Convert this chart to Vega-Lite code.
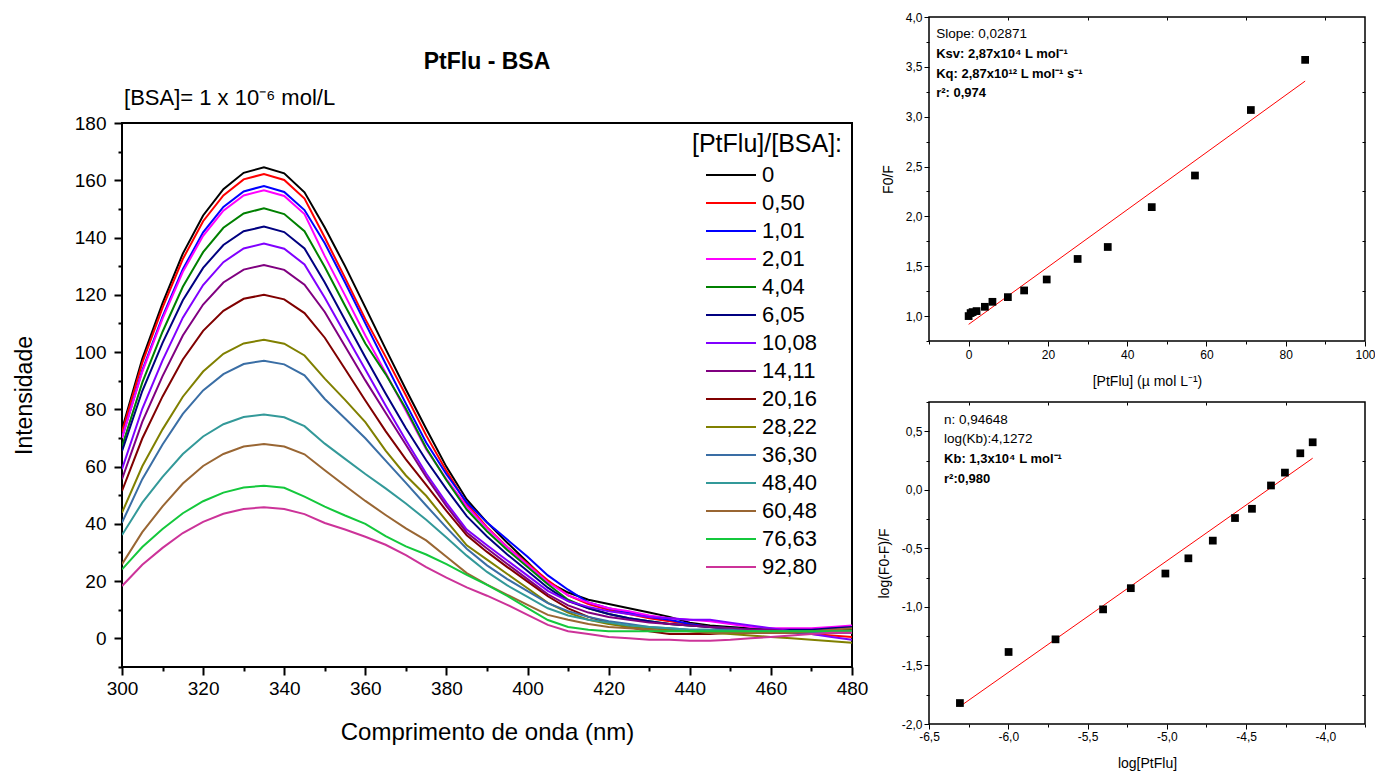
{
"$schema": "https://vega.github.io/schema/vega-lite/v6.json",
"background": "white",
"padding": {"left": 12, "top": 10, "right": 0, "bottom": 0},
"config": {
  "font": "Liberation Sans",
  "view": {"stroke": "black", "strokeWidth": 2},
  "axis": {"domain": false, "grid": false, "tickColor": "black", "labelColor": "black", "titleColor": "black", "titleFontWeight": "normal", "labelOverlap": false, "labelFlush": false}
},
"datasets": {
"sp": [
{"s":"0","x":300,"y":73},{"s":"0","x":305,"y":97.6},{"s":"0","x":310,"y":117.1},{"s":"0","x":315,"y":134.4},{"s":"0","x":320,"y":147.7},{"s":"0","x":325,"y":156.9},{"s":"0","x":330,"y":162.6},{"s":"0","x":335,"y":164.5},{"s":"0","x":340,"y":162.4},{"s":"0","x":345,"y":155.8},{"s":"0","x":350,"y":143.5},{"s":"0","x":355,"y":130},{"s":"0","x":360,"y":115.6},{"s":"0","x":365,"y":101.1},{"s":"0","x":370,"y":86.9},{"s":"0","x":375,"y":73.2},{"s":"0","x":380,"y":59.9},{"s":"0","x":385,"y":48.5},{"s":"0","x":390,"y":40.5},{"s":"0","x":395,"y":33.4},{"s":"0","x":400,"y":26.6},{"s":"0","x":405,"y":19.7},{"s":"0","x":410,"y":16},{"s":"0","x":415,"y":13.5},{"s":"0","x":420,"y":12},{"s":"0","x":425,"y":10.5},{"s":"0","x":430,"y":9},{"s":"0","x":435,"y":7.5},{"s":"0","x":440,"y":5.5},{"s":"0","x":445,"y":4.5},{"s":"0","x":450,"y":4},{"s":"0","x":455,"y":3.5},{"s":"0","x":460,"y":3},{"s":"0","x":465,"y":2.5},{"s":"0","x":470,"y":2.5},{"s":"0","x":475,"y":3},{"s":"0","x":480,"y":3},
{"s":"0,50","x":300,"y":72},{"s":"0,50","x":305,"y":96.2},{"s":"0,50","x":310,"y":115.5},{"s":"0,50","x":315,"y":132.5},{"s":"0,50","x":320,"y":145.7},{"s":"0,50","x":325,"y":154.7},{"s":"0,50","x":330,"y":160.3},{"s":"0,50","x":335,"y":162.2},{"s":"0,50","x":340,"y":160.1},{"s":"0,50","x":345,"y":153.6},{"s":"0,50","x":350,"y":140},{"s":"0,50","x":355,"y":125.9},{"s":"0,50","x":360,"y":111.5},{"s":"0,50","x":365,"y":98.4},{"s":"0,50","x":370,"y":84.9},{"s":"0,50","x":375,"y":70.9},{"s":"0,50","x":380,"y":58.5},{"s":"0,50","x":385,"y":47},{"s":"0,50","x":390,"y":38.8},{"s":"0,50","x":395,"y":31.9},{"s":"0,50","x":400,"y":26.1},{"s":"0,50","x":405,"y":20.3},{"s":"0,50","x":410,"y":15},{"s":"0,50","x":415,"y":12},{"s":"0,50","x":420,"y":10},{"s":"0,50","x":425,"y":8.5},{"s":"0,50","x":430,"y":7},{"s":"0,50","x":435,"y":6},{"s":"0,50","x":440,"y":5},{"s":"0,50","x":445,"y":4},{"s":"0,50","x":450,"y":3.5},{"s":"0,50","x":455,"y":3},{"s":"0,50","x":460,"y":2.5},{"s":"0,50","x":465,"y":2},{"s":"0,50","x":470,"y":1.5},{"s":"0,50","x":475,"y":1},{"s":"0,50","x":480,"y":0.5},
{"s":"1,01","x":300,"y":70},{"s":"1,01","x":305,"y":93.6},{"s":"1,01","x":310,"y":112.4},{"s":"1,01","x":315,"y":128.9},{"s":"1,01","x":320,"y":141.8},{"s":"1,01","x":325,"y":150.7},{"s":"1,01","x":330,"y":156.1},{"s":"1,01","x":335,"y":158},{"s":"1,01","x":340,"y":155.9},{"s":"1,01","x":345,"y":149.6},{"s":"1,01","x":350,"y":138},{"s":"1,01","x":355,"y":124.3},{"s":"1,01","x":360,"y":110},{"s":"1,01","x":365,"y":95.9},{"s":"1,01","x":370,"y":82},{"s":"1,01","x":375,"y":68.4},{"s":"1,01","x":380,"y":57.3},{"s":"1,01","x":385,"y":47.5},{"s":"1,01","x":390,"y":40.5},{"s":"1,01","x":395,"y":34.5},{"s":"1,01","x":400,"y":28.5},{"s":"1,01","x":405,"y":22},{"s":"1,01","x":410,"y":17},{"s":"1,01","x":415,"y":12.5},{"s":"1,01","x":420,"y":10.5},{"s":"1,01","x":425,"y":9},{"s":"1,01","x":430,"y":7.5},{"s":"1,01","x":435,"y":6.5},{"s":"1,01","x":440,"y":5},{"s":"1,01","x":445,"y":4},{"s":"1,01","x":450,"y":3.5},{"s":"1,01","x":455,"y":3},{"s":"1,01","x":460,"y":2.5},{"s":"1,01","x":465,"y":2.5},{"s":"1,01","x":470,"y":2.5},{"s":"1,01","x":475,"y":2.5},{"s":"1,01","x":480,"y":2.5},
{"s":"2,01","x":300,"y":70},{"s":"2,01","x":305,"y":93.1},{"s":"2,01","x":310,"y":111.7},{"s":"2,01","x":315,"y":128},{"s":"2,01","x":320,"y":140.6},{"s":"2,01","x":325,"y":149.4},{"s":"2,01","x":330,"y":154.7},{"s":"2,01","x":335,"y":156.5},{"s":"2,01","x":340,"y":154.5},{"s":"2,01","x":345,"y":148.2},{"s":"2,01","x":350,"y":133.5},{"s":"2,01","x":355,"y":119.8},{"s":"2,01","x":360,"y":105.8},{"s":"2,01","x":365,"y":92.8},{"s":"2,01","x":370,"y":79.5},{"s":"2,01","x":375,"y":66.1},{"s":"2,01","x":380,"y":55.6},{"s":"2,01","x":385,"y":46.1},{"s":"2,01","x":390,"y":38.5},{"s":"2,01","x":395,"y":31.8},{"s":"2,01","x":400,"y":25.7},{"s":"2,01","x":405,"y":19.6},{"s":"2,01","x":410,"y":15},{"s":"2,01","x":415,"y":12.5},{"s":"2,01","x":420,"y":10.5},{"s":"2,01","x":425,"y":9.5},{"s":"2,01","x":430,"y":8},{"s":"2,01","x":435,"y":7},{"s":"2,01","x":440,"y":6.5},{"s":"2,01","x":445,"y":6},{"s":"2,01","x":450,"y":5},{"s":"2,01","x":455,"y":4},{"s":"2,01","x":460,"y":3.5},{"s":"2,01","x":465,"y":3.5},{"s":"2,01","x":470,"y":3.5},{"s":"2,01","x":475,"y":4},{"s":"2,01","x":480,"y":4.5},
{"s":"4,04","x":300,"y":67},{"s":"4,04","x":305,"y":89.3},{"s":"4,04","x":310,"y":107.1},{"s":"4,04","x":315,"y":122.8},{"s":"4,04","x":320,"y":134.9},{"s":"4,04","x":325,"y":143.4},{"s":"4,04","x":330,"y":148.4},{"s":"4,04","x":335,"y":150.2},{"s":"4,04","x":340,"y":148.2},{"s":"4,04","x":345,"y":142.2},{"s":"4,04","x":350,"y":129.7},{"s":"4,04","x":355,"y":116.2},{"s":"4,04","x":360,"y":103},{"s":"4,04","x":365,"y":92.3},{"s":"4,04","x":370,"y":80.2},{"s":"4,04","x":375,"y":66.5},{"s":"4,04","x":380,"y":55.2},{"s":"4,04","x":385,"y":45},{"s":"4,04","x":390,"y":37.4},{"s":"4,04","x":395,"y":30.9},{"s":"4,04","x":400,"y":24.9},{"s":"4,04","x":405,"y":18.9},{"s":"4,04","x":410,"y":13.5},{"s":"4,04","x":415,"y":10.5},{"s":"4,04","x":420,"y":8.5},{"s":"4,04","x":425,"y":7},{"s":"4,04","x":430,"y":6},{"s":"4,04","x":435,"y":5},{"s":"4,04","x":440,"y":4.5},{"s":"4,04","x":445,"y":4},{"s":"4,04","x":450,"y":3.5},{"s":"4,04","x":455,"y":3},{"s":"4,04","x":460,"y":3},{"s":"4,04","x":465,"y":2.5},{"s":"4,04","x":470,"y":2.5},{"s":"4,04","x":475,"y":2.5},{"s":"4,04","x":480,"y":3},
{"s":"6,05","x":300,"y":65.4},{"s":"6,05","x":305,"y":86.4},{"s":"6,05","x":310,"y":103.2},{"s":"6,05","x":315,"y":118.1},{"s":"6,05","x":320,"y":129.4},{"s":"6,05","x":325,"y":137.4},{"s":"6,05","x":330,"y":142.2},{"s":"6,05","x":335,"y":143.8},{"s":"6,05","x":340,"y":141.9},{"s":"6,05","x":345,"y":136.2},{"s":"6,05","x":350,"y":124.3},{"s":"6,05","x":355,"y":111.2},{"s":"6,05","x":360,"y":98.2},{"s":"6,05","x":365,"y":85.5},{"s":"6,05","x":370,"y":73.4},{"s":"6,05","x":375,"y":62.2},{"s":"6,05","x":380,"y":52.1},{"s":"6,05","x":385,"y":42.7},{"s":"6,05","x":390,"y":35.6},{"s":"6,05","x":395,"y":29.3},{"s":"6,05","x":400,"y":23.5},{"s":"6,05","x":405,"y":17.7},{"s":"6,05","x":410,"y":13},{"s":"6,05","x":415,"y":10.5},{"s":"6,05","x":420,"y":8.5},{"s":"6,05","x":425,"y":7},{"s":"6,05","x":430,"y":6},{"s":"6,05","x":435,"y":5},{"s":"6,05","x":440,"y":4.5},{"s":"6,05","x":445,"y":4},{"s":"6,05","x":450,"y":3.5},{"s":"6,05","x":455,"y":3},{"s":"6,05","x":460,"y":3},{"s":"6,05","x":465,"y":3},{"s":"6,05","x":470,"y":3},{"s":"6,05","x":475,"y":3.5},{"s":"6,05","x":480,"y":4},
{"s":"10,08","x":300,"y":59.1},{"s":"10,08","x":305,"y":80.2},{"s":"10,08","x":310,"y":97.1},{"s":"10,08","x":315,"y":112},{"s":"10,08","x":320,"y":123.4},{"s":"10,08","x":325,"y":131.4},{"s":"10,08","x":330,"y":136.2},{"s":"10,08","x":335,"y":137.9},{"s":"10,08","x":340,"y":136.1},{"s":"10,08","x":345,"y":130.6},{"s":"10,08","x":350,"y":119},{"s":"10,08","x":355,"y":106.4},{"s":"10,08","x":360,"y":93.9},{"s":"10,08","x":365,"y":81.3},{"s":"10,08","x":370,"y":69.2},{"s":"10,08","x":375,"y":57.6},{"s":"10,08","x":380,"y":47.3},{"s":"10,08","x":385,"y":38},{"s":"10,08","x":390,"y":32.5},{"s":"10,08","x":395,"y":27.2},{"s":"10,08","x":400,"y":21.9},{"s":"10,08","x":405,"y":16.6},{"s":"10,08","x":410,"y":13},{"s":"10,08","x":415,"y":11},{"s":"10,08","x":420,"y":9.5},{"s":"10,08","x":425,"y":8.5},{"s":"10,08","x":430,"y":7.5},{"s":"10,08","x":435,"y":7},{"s":"10,08","x":440,"y":6.5},{"s":"10,08","x":445,"y":6.5},{"s":"10,08","x":450,"y":5.5},{"s":"10,08","x":455,"y":4.5},{"s":"10,08","x":460,"y":3.5},{"s":"10,08","x":465,"y":2.5},{"s":"10,08","x":470,"y":1.5},{"s":"10,08","x":475,"y":0.5},{"s":"10,08","x":480,"y":-0.5},
{"s":"14,11","x":300,"y":55.6},{"s":"14,11","x":305,"y":75.6},{"s":"14,11","x":310,"y":91.6},{"s":"14,11","x":315,"y":105.8},{"s":"14,11","x":320,"y":116.6},{"s":"14,11","x":325,"y":124.3},{"s":"14,11","x":330,"y":128.8},{"s":"14,11","x":335,"y":130.4},{"s":"14,11","x":340,"y":128.7},{"s":"14,11","x":345,"y":123.5},{"s":"14,11","x":350,"y":114},{"s":"14,11","x":355,"y":102},{"s":"14,11","x":360,"y":90.1},{"s":"14,11","x":365,"y":78.8},{"s":"14,11","x":370,"y":67.6},{"s":"14,11","x":375,"y":56.4},{"s":"14,11","x":380,"y":46.2},{"s":"14,11","x":385,"y":37},{"s":"14,11","x":390,"y":31.4},{"s":"14,11","x":395,"y":26},{"s":"14,11","x":400,"y":20.7},{"s":"14,11","x":405,"y":15.4},{"s":"14,11","x":410,"y":11.5},{"s":"14,11","x":415,"y":9},{"s":"14,11","x":420,"y":7.5},{"s":"14,11","x":425,"y":6.5},{"s":"14,11","x":430,"y":5.5},{"s":"14,11","x":435,"y":5},{"s":"14,11","x":440,"y":4.5},{"s":"14,11","x":445,"y":4},{"s":"14,11","x":450,"y":3.5},{"s":"14,11","x":455,"y":3},{"s":"14,11","x":460,"y":3},{"s":"14,11","x":465,"y":2.5},{"s":"14,11","x":470,"y":2.5},{"s":"14,11","x":475,"y":2},{"s":"14,11","x":480,"y":2},
{"s":"20,16","x":300,"y":51.5},{"s":"20,16","x":305,"y":69.8},{"s":"20,16","x":310,"y":84.5},{"s":"20,16","x":315,"y":97.4},{"s":"20,16","x":320,"y":107.4},{"s":"20,16","x":325,"y":114.4},{"s":"20,16","x":330,"y":118.6},{"s":"20,16","x":335,"y":120},{"s":"20,16","x":340,"y":118.4},{"s":"20,16","x":345,"y":113.6},{"s":"20,16","x":350,"y":105},{"s":"20,16","x":355,"y":94.1},{"s":"20,16","x":360,"y":83.1},{"s":"20,16","x":365,"y":72.4},{"s":"20,16","x":370,"y":62.5},{"s":"20,16","x":375,"y":53.6},{"s":"20,16","x":380,"y":44.5},{"s":"20,16","x":385,"y":36},{"s":"20,16","x":390,"y":30.2},{"s":"20,16","x":395,"y":24.9},{"s":"20,16","x":400,"y":19.8},{"s":"20,16","x":405,"y":14.7},{"s":"20,16","x":410,"y":10.5},{"s":"20,16","x":415,"y":7.5},{"s":"20,16","x":420,"y":5.5},{"s":"20,16","x":425,"y":4},{"s":"20,16","x":430,"y":2.5},{"s":"20,16","x":435,"y":1.5},{"s":"20,16","x":440,"y":1.5},{"s":"20,16","x":445,"y":1.5},{"s":"20,16","x":450,"y":2},{"s":"20,16","x":455,"y":2},{"s":"20,16","x":460,"y":2},{"s":"20,16","x":465,"y":2},{"s":"20,16","x":470,"y":2},{"s":"20,16","x":475,"y":2},{"s":"20,16","x":480,"y":2.5},
{"s":"28,22","x":300,"y":43.9},{"s":"28,22","x":305,"y":60.1},{"s":"28,22","x":310,"y":73},{"s":"28,22","x":315,"y":84.4},{"s":"28,22","x":320,"y":93.2},{"s":"28,22","x":325,"y":99.4},{"s":"28,22","x":330,"y":103},{"s":"28,22","x":335,"y":104.3},{"s":"28,22","x":340,"y":102.9},{"s":"28,22","x":345,"y":98.8},{"s":"28,22","x":350,"y":90.7},{"s":"28,22","x":355,"y":83.3},{"s":"28,22","x":360,"y":75.5},{"s":"28,22","x":365,"y":65.6},{"s":"28,22","x":370,"y":56.9},{"s":"28,22","x":375,"y":49.8},{"s":"28,22","x":380,"y":41},{"s":"28,22","x":385,"y":32.5},{"s":"28,22","x":390,"y":27.5},{"s":"28,22","x":395,"y":22.5},{"s":"28,22","x":400,"y":17.5},{"s":"28,22","x":405,"y":12.4},{"s":"28,22","x":410,"y":9},{"s":"28,22","x":415,"y":6.5},{"s":"28,22","x":420,"y":5},{"s":"28,22","x":425,"y":4},{"s":"28,22","x":430,"y":3.5},{"s":"28,22","x":435,"y":3},{"s":"28,22","x":440,"y":2.5},{"s":"28,22","x":445,"y":2},{"s":"28,22","x":450,"y":1.5},{"s":"28,22","x":455,"y":1},{"s":"28,22","x":460,"y":0.5},{"s":"28,22","x":465,"y":0},{"s":"28,22","x":470,"y":-0.5},{"s":"28,22","x":475,"y":-1},{"s":"28,22","x":480,"y":-1.5},
{"s":"36,30","x":300,"y":40.4},{"s":"36,30","x":305,"y":55.6},{"s":"36,30","x":310,"y":67.7},{"s":"36,30","x":315,"y":78.4},{"s":"36,30","x":320,"y":86.6},{"s":"36,30","x":325,"y":92.3},{"s":"36,30","x":330,"y":95.8},{"s":"36,30","x":335,"y":97},{"s":"36,30","x":340,"y":95.7},{"s":"36,30","x":345,"y":91.9},{"s":"36,30","x":350,"y":83.6},{"s":"36,30","x":355,"y":76.8},{"s":"36,30","x":360,"y":69.9},{"s":"36,30","x":365,"y":62.1},{"s":"36,30","x":370,"y":54.3},{"s":"36,30","x":375,"y":46.4},{"s":"36,30","x":380,"y":38.7},{"s":"36,30","x":385,"y":31.3},{"s":"36,30","x":390,"y":25.5},{"s":"36,30","x":395,"y":20.7},{"s":"36,30","x":400,"y":16.5},{"s":"36,30","x":405,"y":12.3},{"s":"36,30","x":410,"y":9.5},{"s":"36,30","x":415,"y":7.5},{"s":"36,30","x":420,"y":6},{"s":"36,30","x":425,"y":5},{"s":"36,30","x":430,"y":4},{"s":"36,30","x":435,"y":3.5},{"s":"36,30","x":440,"y":3},{"s":"36,30","x":445,"y":3},{"s":"36,30","x":450,"y":3},{"s":"36,30","x":455,"y":2.5},{"s":"36,30","x":460,"y":2.5},{"s":"36,30","x":465,"y":2},{"s":"36,30","x":470,"y":2},{"s":"36,30","x":475,"y":2},{"s":"36,30","x":480,"y":2},
{"s":"48,40","x":300,"y":36.1},{"s":"48,40","x":305,"y":47.4},{"s":"48,40","x":310,"y":56.4},{"s":"48,40","x":315,"y":64.4},{"s":"48,40","x":320,"y":70.5},{"s":"48,40","x":325,"y":74.8},{"s":"48,40","x":330,"y":77.3},{"s":"48,40","x":335,"y":78.2},{"s":"48,40","x":340,"y":77.2},{"s":"48,40","x":345,"y":74.1},{"s":"48,40","x":350,"y":68},{"s":"48,40","x":355,"y":62.7},{"s":"48,40","x":360,"y":57.4},{"s":"48,40","x":365,"y":52.4},{"s":"48,40","x":370,"y":47.1},{"s":"48,40","x":375,"y":41.4},{"s":"48,40","x":380,"y":35.2},{"s":"48,40","x":385,"y":28.9},{"s":"48,40","x":390,"y":23.2},{"s":"48,40","x":395,"y":18.5},{"s":"48,40","x":400,"y":14.5},{"s":"48,40","x":405,"y":10.5},{"s":"48,40","x":410,"y":8},{"s":"48,40","x":415,"y":6.5},{"s":"48,40","x":420,"y":5.5},{"s":"48,40","x":425,"y":4.5},{"s":"48,40","x":430,"y":4},{"s":"48,40","x":435,"y":3.5},{"s":"48,40","x":440,"y":3},{"s":"48,40","x":445,"y":3},{"s":"48,40","x":450,"y":2.5},{"s":"48,40","x":455,"y":2.5},{"s":"48,40","x":460,"y":2.5},{"s":"48,40","x":465,"y":2.5},{"s":"48,40","x":470,"y":2.5},{"s":"48,40","x":475,"y":2.5},{"s":"48,40","x":480,"y":2.5},
{"s":"60,48","x":300,"y":25.9},{"s":"60,48","x":305,"y":37.1},{"s":"60,48","x":310,"y":46.1},{"s":"60,48","x":315,"y":54.1},{"s":"60,48","x":320,"y":60.2},{"s":"60,48","x":325,"y":64.4},{"s":"60,48","x":330,"y":67},{"s":"60,48","x":335,"y":67.9},{"s":"60,48","x":340,"y":67},{"s":"60,48","x":345,"y":64.3},{"s":"60,48","x":350,"y":58.7},{"s":"60,48","x":355,"y":53.3},{"s":"60,48","x":360,"y":48},{"s":"60,48","x":365,"y":43.1},{"s":"60,48","x":370,"y":38.4},{"s":"60,48","x":375,"y":34.2},{"s":"60,48","x":380,"y":28.5},{"s":"60,48","x":385,"y":22.8},{"s":"60,48","x":390,"y":18.8},{"s":"60,48","x":395,"y":15.2},{"s":"60,48","x":400,"y":11.7},{"s":"60,48","x":405,"y":8.2},{"s":"60,48","x":410,"y":6.5},{"s":"60,48","x":415,"y":5},{"s":"60,48","x":420,"y":4},{"s":"60,48","x":425,"y":3.5},{"s":"60,48","x":430,"y":3},{"s":"60,48","x":435,"y":2.5},{"s":"60,48","x":440,"y":2.5},{"s":"60,48","x":445,"y":2},{"s":"60,48","x":450,"y":2},{"s":"60,48","x":455,"y":2},{"s":"60,48","x":460,"y":2},{"s":"60,48","x":465,"y":2},{"s":"60,48","x":470,"y":2.5},{"s":"60,48","x":475,"y":3},{"s":"60,48","x":480,"y":3.5},
{"s":"76,63","x":300,"y":24.1},{"s":"76,63","x":305,"y":31.9},{"s":"76,63","x":310,"y":38.2},{"s":"76,63","x":315,"y":43.7},{"s":"76,63","x":320,"y":47.9},{"s":"76,63","x":325,"y":50.9},{"s":"76,63","x":330,"y":52.7},{"s":"76,63","x":335,"y":53.3},{"s":"76,63","x":340,"y":52.6},{"s":"76,63","x":345,"y":49.5},{"s":"76,63","x":350,"y":46},{"s":"76,63","x":355,"y":42.9},{"s":"76,63","x":360,"y":40},{"s":"76,63","x":365,"y":35.7},{"s":"76,63","x":370,"y":32.1},{"s":"76,63","x":375,"y":29.3},{"s":"76,63","x":380,"y":25.9},{"s":"76,63","x":385,"y":22.2},{"s":"76,63","x":390,"y":18.7},{"s":"76,63","x":395,"y":14.8},{"s":"76,63","x":400,"y":10.6},{"s":"76,63","x":405,"y":6.4},{"s":"76,63","x":410,"y":4},{"s":"76,63","x":415,"y":3},{"s":"76,63","x":420,"y":2.5},{"s":"76,63","x":425,"y":2.5},{"s":"76,63","x":430,"y":2.5},{"s":"76,63","x":435,"y":2.5},{"s":"76,63","x":440,"y":2.5},{"s":"76,63","x":445,"y":2.5},{"s":"76,63","x":450,"y":2.5},{"s":"76,63","x":455,"y":2.5},{"s":"76,63","x":460,"y":2.5},{"s":"76,63","x":465,"y":2.5},{"s":"76,63","x":470,"y":2.5},{"s":"76,63","x":475,"y":2.5},{"s":"76,63","x":480,"y":2.5},
{"s":"92,80","x":300,"y":18.3},{"s":"92,80","x":305,"y":25.7},{"s":"92,80","x":310,"y":31.6},{"s":"92,80","x":315,"y":36.8},{"s":"92,80","x":320,"y":40.7},{"s":"92,80","x":325,"y":43.5},{"s":"92,80","x":330,"y":45.2},{"s":"92,80","x":335,"y":45.8},{"s":"92,80","x":340,"y":45.2},{"s":"92,80","x":345,"y":43.4},{"s":"92,80","x":350,"y":40.3},{"s":"92,80","x":355,"y":38},{"s":"92,80","x":360,"y":35.5},{"s":"92,80","x":365,"y":32.7},{"s":"92,80","x":370,"y":29.1},{"s":"92,80","x":375,"y":24.9},{"s":"92,80","x":380,"y":21.2},{"s":"92,80","x":385,"y":17.8},{"s":"92,80","x":390,"y":14.9},{"s":"92,80","x":395,"y":11.7},{"s":"92,80","x":400,"y":8.2},{"s":"92,80","x":405,"y":4.7},{"s":"92,80","x":410,"y":2.5},{"s":"92,80","x":415,"y":1.5},{"s":"92,80","x":420,"y":0.5},{"s":"92,80","x":425,"y":0},{"s":"92,80","x":430,"y":-0.5},{"s":"92,80","x":435,"y":-0.5},{"s":"92,80","x":440,"y":-0.8},{"s":"92,80","x":445,"y":-0.8},{"s":"92,80","x":450,"y":-0.5},{"s":"92,80","x":455,"y":0},{"s":"92,80","x":460,"y":0.5},{"s":"92,80","x":465,"y":1},{"s":"92,80","x":470,"y":1.5},{"s":"92,80","x":475,"y":2},{"s":"92,80","x":480,"y":2}
],
"sv": [
{"x":0,"y":1.0},{"x":0.5,"y":1.03},{"x":1.0,"y":1.04},{"x":2.0,"y":1.05},{"x":4.1,"y":1.093},{"x":6.0,"y":1.143},{"x":9.9,"y":1.19},{"x":14.0,"y":1.257},{"x":19.7,"y":1.367},{"x":27.5,"y":1.573},{"x":35.1,"y":1.693},{"x":46.2,"y":2.093},{"x":57.1,"y":2.41},{"x":71.2,"y":3.067},{"x":84.9,"y":3.57}
],
"svfit": [{"x":0,"y":0.917},{"x":84.9,"y":3.357}],
"dl": [
{"x":-6.305,"y":-1.821},{"x":-5.998,"y":-1.385},{"x":-5.702,"y":-1.277},{"x":-5.402,"y":-1.021},{"x":-5.227,"y":-0.84},{"x":-5.009,"y":-0.715},{"x":-4.864,"y":-0.585},{"x":-4.71,"y":-0.434},{"x":-4.57,"y":-0.241},{"x":-4.463,"y":-0.162},{"x":-4.343,"y":0.037},{"x":-4.255,"y":0.147},{"x":-4.158,"y":0.312},{"x":-4.08,"y":0.406}
],
"dlfit": [{"x":-6.305,"y":-1.85},{"x":-4.08,"y":0.27}]
},
"resolve": {"scale": {"color": "independent"}, "legend": {"color": "independent"}},
"spacing": 7,
"hconcat": [
{
  "spacing": 10,
  "resolve": {"scale": {"color": "independent"}, "legend": {"color": "independent"}},
  "vconcat": [
    {"width": 730, "height": 23, "view": {"stroke": null}, "data": {"values": [{}]}, "mark": "text", "encoding": {"text": {"value": ""}}},
    {
      "width": 730, "height": 544,
      "title": {"text": "PtFlu - BSA", "fontSize": 23, "fontWeight": "bold", "anchor": "middle", "frame": "group", "offset": 13, "color": "black"},
      "resolve": {"axis": {"x": "independent", "y": "independent"}},
      "layer": [
        {
          "data": {"name": "sp"},
          "mark": {"type": "line", "strokeWidth": 2, "clip": true},
          "encoding": {
            "x": {"field": "x", "type": "quantitative", "scale": {"domain": [300, 480], "nice": false, "zero": false},
              "axis": {"orient": "bottom", "title": "Comprimento de onda (nm)", "values": [300,320,340,360,380,400,420,440,460,480],
                "format": "d", "tickSize": 8, "tickWidth": 2, "labelFontSize": 19, "titleFontSize": 24, "labelPadding": 4, "titlePadding": 22}},
            "y": {"field": "y", "type": "quantitative", "scale": {"domain": [-10, 180], "nice": false, "zero": false},
              "axis": {"orient": "left", "title": "Intensidade", "values": [0,20,40,60,80,100,120,140,160,180],
                "format": "d", "tickSize": 8, "tickWidth": 2, "labelFontSize": 19, "titleFontSize": 23, "labelPadding": 8, "titlePadding": 38}},
            "color": {"field": "s", "type": "nominal",
              "scale": {"domain": ["0","0,50","1,01","2,01","4,04","6,05","10,08","14,11","20,16","28,22","36,30","48,40","60,48","76,63","92,80"],
                "range": ["#000000","#FF0000","#0000FF","#FF00FF","#008000","#000080","#8000FF","#800080","#800000","#808000","#3A6EA5","#339999","#996633","#14C83C","#CC3399"]},
              "legend": {"title": "[PtFlu]/[BSA]:", "orient": "top-right", "offset": 9, "padding": 0,
                "titleFontSize": 25, "titleFontWeight": "normal", "titleColor": "black", "titlePadding": 4, "titleLimit": 400,
                "labelFontSize": 22, "labelColor": "black", "labelOffset": 5,
                "symbolType": "stroke", "symbolSize": 2500, "symbolStrokeWidth": 2, "symbolOffset": 13,
                "clipHeight": 28, "rowPadding": 0}}
          }
        },
        {
          "data": {"values": [{}]},
          "mark": {"type": "text", "align": "left", "baseline": "middle", "fontSize": 22, "color": "black", "clip": false},
          "encoding": {
            "x": {"datum": 300.5, "axis": {"orient": "bottom", "values": [310,330,350,370,390,410,430,450,470], "labels": false, "title": null, "tickSize": 4, "tickWidth": 2}},
            "y": {"datum": 188.6, "axis": {"orient": "left", "values": [-10,10,30,50,70,90,110,130,150,170], "labels": false, "title": null, "tickSize": 4, "tickWidth": 2}},
            "text": {"value": "[BSA]= 1 x 10⁻⁶ mol/L"}}
        }
      ]
    }
  ]
},
{
  "spacing": 11,
  "vconcat": [
    {
      "width": 436, "height": 324,
      "view": {"stroke": "black", "strokeWidth": 1.5},
      "resolve": {"axis": {"x": "independent", "y": "independent"}},
      "layer": [
        {
          "data": {"name": "svfit"},
          "mark": {"type": "line", "color": "#FF0000", "strokeWidth": 1},
          "encoding": {
            "x": {"field": "x", "type": "quantitative", "scale": {"domain": [-10, 100], "nice": false, "zero": false},
              "axis": {"orient": "bottom", "title": "[PtFlu] (µ mol L⁻¹)", "values": [0,20,40,60,80,100], "format": "d",
                "tickSize": 5, "labelFontSize": 12, "titleFontSize": 14, "labelPadding": 3, "titlePadding": 14}},
            "y": {"field": "y", "type": "quantitative", "scale": {"domain": [0.75, 4.0], "nice": false, "zero": false},
              "axis": {"orient": "left", "title": "F0/F", "values": [1,1.5,2,2.5,3,3.5,4],
                "labelExpr": "replace(format(datum.value, '.1f'), '.', ',')",
                "tickSize": 5, "labelFontSize": 12, "titleFontSize": 14, "labelPadding": 2, "titlePadding": 10}}
          }
        },
        {
          "data": {"name": "sv"},
          "mark": {"type": "square", "filled": true, "color": "black", "size": 60, "opacity": 1},
          "encoding": {
            "x": {"field": "x", "type": "quantitative", "axis": {"orient": "bottom", "values": [-10,10,30,50,70,90], "labels": false, "title": null, "tickSize": 3}},
            "y": {"field": "y", "type": "quantitative", "axis": {"orient": "left", "values": [0.75,1.25,1.75,2.25,2.75,3.25,3.75], "labels": false, "title": null, "tickSize": 3}}
          }
        },
        {
          "data": {"values": [{}]},
          "mark": {"type": "text", "align": "left", "baseline": "middle", "fontSize": 13.5, "color": "black"},
          "encoding": {
            "x": {"datum": -8.2, "axis": {"orient": "top", "values": [10,30,50,70,90], "labels": false, "title": null, "tickSize": -3}},
            "y": {"datum": 3.83, "axis": {"orient": "right", "values": [1.25,1.75,2.25,2.75,3.25,3.75], "labels": false, "title": null, "tickSize": -3}},
            "text": {"value": "Slope: 0,02871"}}
        },
        {
          "data": {"values": [{}]},
          "mark": {"type": "text", "align": "left", "baseline": "middle", "fontSize": 13, "fontWeight": "bold", "color": "black"},
          "encoding": {"x": {"datum": -8.2, "axis": null}, "y": {"datum": 3.632, "axis": null}, "text": {"value": "Ksv: 2,87x10⁴ L mol⁻¹"}}
        },
        {
          "data": {"values": [{}]},
          "mark": {"type": "text", "align": "left", "baseline": "middle", "fontSize": 13, "fontWeight": "bold", "color": "black"},
          "encoding": {"x": {"datum": -8.2, "axis": null}, "y": {"datum": 3.431, "axis": null}, "text": {"value": "Kq: 2,87x10¹² L mol⁻¹ s⁻¹"}}
        },
        {
          "data": {"values": [{}]},
          "mark": {"type": "text", "align": "left", "baseline": "middle", "fontSize": 13, "fontWeight": "bold", "color": "black"},
          "encoding": {"x": {"datum": -8.2, "axis": null}, "y": {"datum": 3.24, "axis": null}, "text": {"value": "r²: 0,974"}}
        }
      ]
    },
    {
      "width": 436, "height": 322,
      "view": {"stroke": "black", "strokeWidth": 1.5},
      "resolve": {"axis": {"x": "independent", "y": "independent"}},
      "layer": [
        {
          "data": {"name": "dlfit"},
          "mark": {"type": "line", "color": "#FF0000", "strokeWidth": 1},
          "encoding": {
            "x": {"field": "x", "type": "quantitative", "scale": {"domain": [-6.5, -3.75], "nice": false, "zero": false},
              "axis": {"orient": "bottom", "title": "log[PtFlu]", "values": [-6.5,-6,-5.5,-5,-4.5,-4],
                "labelExpr": "replace(replace(format(datum.value, '.1f'), '.', ','), '−', '-')",
                "tickSize": 5, "labelFontSize": 12, "titleFontSize": 14, "labelPadding": 2, "titlePadding": 14}},
            "y": {"field": "y", "type": "quantitative", "scale": {"domain": [-2.0, 0.75], "nice": false, "zero": false},
              "axis": {"orient": "left", "title": "log(F0-F)/F", "values": [-2,-1.5,-1,-0.5,0,0.5],
                "labelExpr": "replace(replace(format(datum.value, '.1f'), '.', ','), '−', '-')",
                "tickSize": 5, "labelFontSize": 12, "titleFontSize": 14, "labelPadding": 2, "titlePadding": 10}}
          }
        },
        {
          "data": {"name": "dl"},
          "mark": {"type": "square", "filled": true, "color": "black", "size": 60, "opacity": 1},
          "encoding": {
            "x": {"field": "x", "type": "quantitative", "axis": {"orient": "bottom", "values": [-6.25,-5.75,-5.25,-4.75,-4.25,-3.75], "labels": false, "title": null, "tickSize": 3}},
            "y": {"field": "y", "type": "quantitative", "axis": {"orient": "left", "values": [-1.75,-1.25,-0.75,-0.25,0.25,0.75], "labels": false, "title": null, "tickSize": 3}}
          }
        },
        {
          "data": {"values": [{}]},
          "mark": {"type": "text", "align": "left", "baseline": "middle", "fontSize": 13.5, "color": "black"},
          "encoding": {
            "x": {"datum": -6.405, "axis": {"orient": "top", "values": [-6.25,-5.75,-5.25,-4.75,-4.25], "labels": false, "title": null, "tickSize": -3}},
            "y": {"datum": 0.596, "axis": {"orient": "right", "values": [-1.75,-1.25,-0.75,-0.25,0.25], "labels": false, "title": null, "tickSize": -3}},
            "text": {"value": "n: 0,94648"}}
        },
        {
          "data": {"values": [{}]},
          "mark": {"type": "text", "align": "left", "baseline": "middle", "fontSize": 13.5, "color": "black"},
          "encoding": {"x": {"datum": -6.405, "axis": null}, "y": {"datum": 0.434, "axis": null}, "text": {"value": "log(Kb):4,1272"}}
        },
        {
          "data": {"values": [{}]},
          "mark": {"type": "text", "align": "left", "baseline": "middle", "fontSize": 13, "fontWeight": "bold", "color": "black"},
          "encoding": {"x": {"datum": -6.405, "axis": null}, "y": {"datum": 0.264, "axis": null}, "text": {"value": "Kb: 1,3x10⁴ L mol⁻¹"}}
        },
        {
          "data": {"values": [{}]},
          "mark": {"type": "text", "align": "left", "baseline": "middle", "fontSize": 13, "fontWeight": "bold", "color": "black"},
          "encoding": {"x": {"datum": -6.405, "axis": null}, "y": {"datum": 0.094, "axis": null}, "text": {"value": "r²:0,980"}}
        }
      ]
    }
  ]
}
]
}
